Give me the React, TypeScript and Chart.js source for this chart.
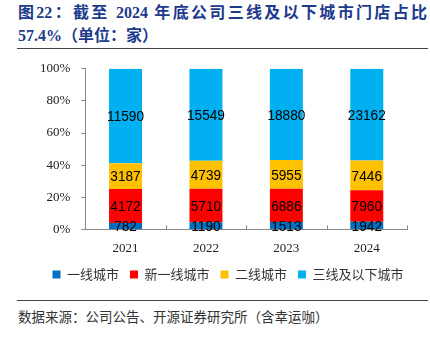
import React, { useEffect, useRef } from "react";
import { Chart, registerables } from "chart.js";

Chart.register(...registerables);

const categories = ["2021", "2022", "2023", "2024"];
const seriesNames = ["一线城市", "新一线城市", "二线城市", "三线及以下城市"];
const tier1 = [782, 1190, 1513, 1942];
const newTier1 = [4172, 5710, 6886, 7960];
const tier2 = [3187, 4739, 5955, 7446];
const tier3Below = [11590, 15549, 18880, 23162];
const seriesColors = ["#0070C0", "#FF0000", "#FFC000", "#00B0F0"];
const yTicks = [0, 20, 40, 60, 80, 100];

const rawSeries = [tier1, newTier1, tier2, tier3Below];
const totals = categories.map((_, i) => rawSeries.reduce((s, arr) => s + arr[i], 0));

const labelPlugin = {
  id: "segLabels",
  afterDatasetsDraw(chart: any) {
    const ctx = chart.ctx;
    const sx = 0.88;
    chart.data.datasets.forEach((ds: any, di: number) => {
      const meta = chart.getDatasetMeta(di);
      meta.data.forEach((el: any, i: number) => {
        const y = (el.y + el.base) / 2;
        ctx.save();
        ctx.font = '15.5px "Liberation Sans", sans-serif';
        ctx.fillStyle = "#000";
        ctx.textAlign = "center";
        ctx.textBaseline = "middle";
        ctx.translate(el.x, y + 1);
        ctx.scale(sx, 1);
        ctx.fillText(String(ds.raw[i]), 0, 0);
        ctx.restore();
      });
    });
  },
};

const xTickPlugin = {
  id: "xInnerTicks",
  afterLayout(chart: any) {
    const lg = chart.legend;
    if (lg) {
      lg.left += 10;
      lg.right += 10;
      lg.top -= 2;
      lg.bottom -= 2;
    }
  },
  afterDraw(chart: any) {
    const xs = chart.scales.x;
    const ctx = chart.ctx;
    const n = categories.length;
    const half = (xs.getPixelForValue(1) - xs.getPixelForValue(0)) / 2;
    ctx.save();
    ctx.strokeStyle = "#888";
    ctx.lineWidth = 1;
    for (let i = 0; i < n; i++) {
      const x = Math.round(xs.getPixelForValue(i) + half) + 0.5;
      ctx.beginPath();
      ctx.moveTo(x, xs.top);
      ctx.lineTo(x, xs.top - 4);
      ctx.stroke();
    }
    ctx.restore();
  },
};

function StackChart() {
  const ref = useRef<HTMLCanvasElement>(null);
  useEffect(() => {
    if (!ref.current) return;
    const chart = new Chart(ref.current, {
      type: "bar",
      data: {
        labels: categories,
        datasets: rawSeries.map((arr, si) => ({
          label: seriesNames[si],
          data: arr.map((v, i) => (v / totals[i]) * 100),
          raw: arr,
          backgroundColor: seriesColors[si],
          borderWidth: 0,
          categoryPercentage: 1,
          barPercentage: 0.41,
        })) as any,
      },
      options: {
        animation: false,
        responsive: false,
        maintainAspectRatio: false,
        layout: { padding: { top: 12, left: 29, right: 23, bottom: 4 } },
        plugins: {
          tooltip: { enabled: false },
          legend: {
            position: "bottom",
            labels: {
              boxWidth: 8,
              boxHeight: 8,
              padding: 11,
              color: "#333",
              font: { size: 13, family: '"Noto Sans CJK SC", sans-serif' },
            },
          },
        },
        scales: {
          x: {
            stacked: true,
            grid: { display: false },
            border: { display: true, color: "#888", width: 1 },
            ticks: {
              color: "#222",
              padding: 3,
              font: { size: 13, family: '"Liberation Serif", serif' },
            },
          },
          y: {
            stacked: true,
            min: 0,
            max: 100,
            afterBuildTicks: (axis: any) => {
              axis.ticks = yTicks.map((v) => ({ value: v }));
            },
            grid: { display: true, drawOnChartArea: false, tickLength: 4, color: "#888" },
            border: { display: true, color: "#888", width: 1 },
            ticks: {
              color: "#222",
              padding: 11,
              font: { size: 13, family: '"Liberation Serif", serif' },
              callback: (v: any) => v + "%",
            },
          },
        },
      },
      plugins: [labelPlugin, xTickPlugin],
    });
    return () => chart.destroy();
  }, []);
  return <canvas ref={ref} width={430} height={247} style={{ position: "absolute", left: 0, top: 50, width: 430, height: 247 }} />;
}

export default function App() {
  const titleFont = '"Liberation Serif", "Noto Sans CJK SC", serif';
  return (
    <div style={{ position: "fixed", left: 0, top: 0, width: 430, height: 340, background: "#fff", overflow: "hidden" }}>
      <div
        style={{
          position: "absolute",
          left: 18,
          top: 2,
          width: 409,
          lineHeight: "22px",
          fontSize: 16,
          fontWeight: "bold",
          fontFamily: titleFont,
          color: "#1E3A8C",
          textAlign: "justify",
          textAlignLast: "justify" as any,
          whiteSpace: "nowrap",
        }}
      >
        图22：截至 2024 年底公司三线及以下城市门店占比
      </div>
      <div
        style={{
          position: "absolute",
          left: 18,
          top: 25,
          lineHeight: "22px",
          fontSize: 16,
          fontWeight: "bold",
          fontFamily: titleFont,
          color: "#1E3A8C",
          whiteSpace: "nowrap",
        }}
      >
        57.4%（单位：家）
      </div>
      <div style={{ position: "absolute", left: 17, top: 48, width: 411, height: 1, background: "#444" }} />
      <div style={{ position: "absolute", left: 17, top: 300, width: 411, height: 1, background: "#444" }} />
      <StackChart />
      <div
        style={{
          position: "absolute",
          left: 18,
          top: 306,
          lineHeight: "20px",
          fontSize: 13.5,
          fontFamily: '"Noto Sans CJK SC", sans-serif',
          color: "#333",
          whiteSpace: "nowrap",
        }}
      >
        数据来源：公司公告、开源证券研究所（含幸运咖）
      </div>
    </div>
  );
}
